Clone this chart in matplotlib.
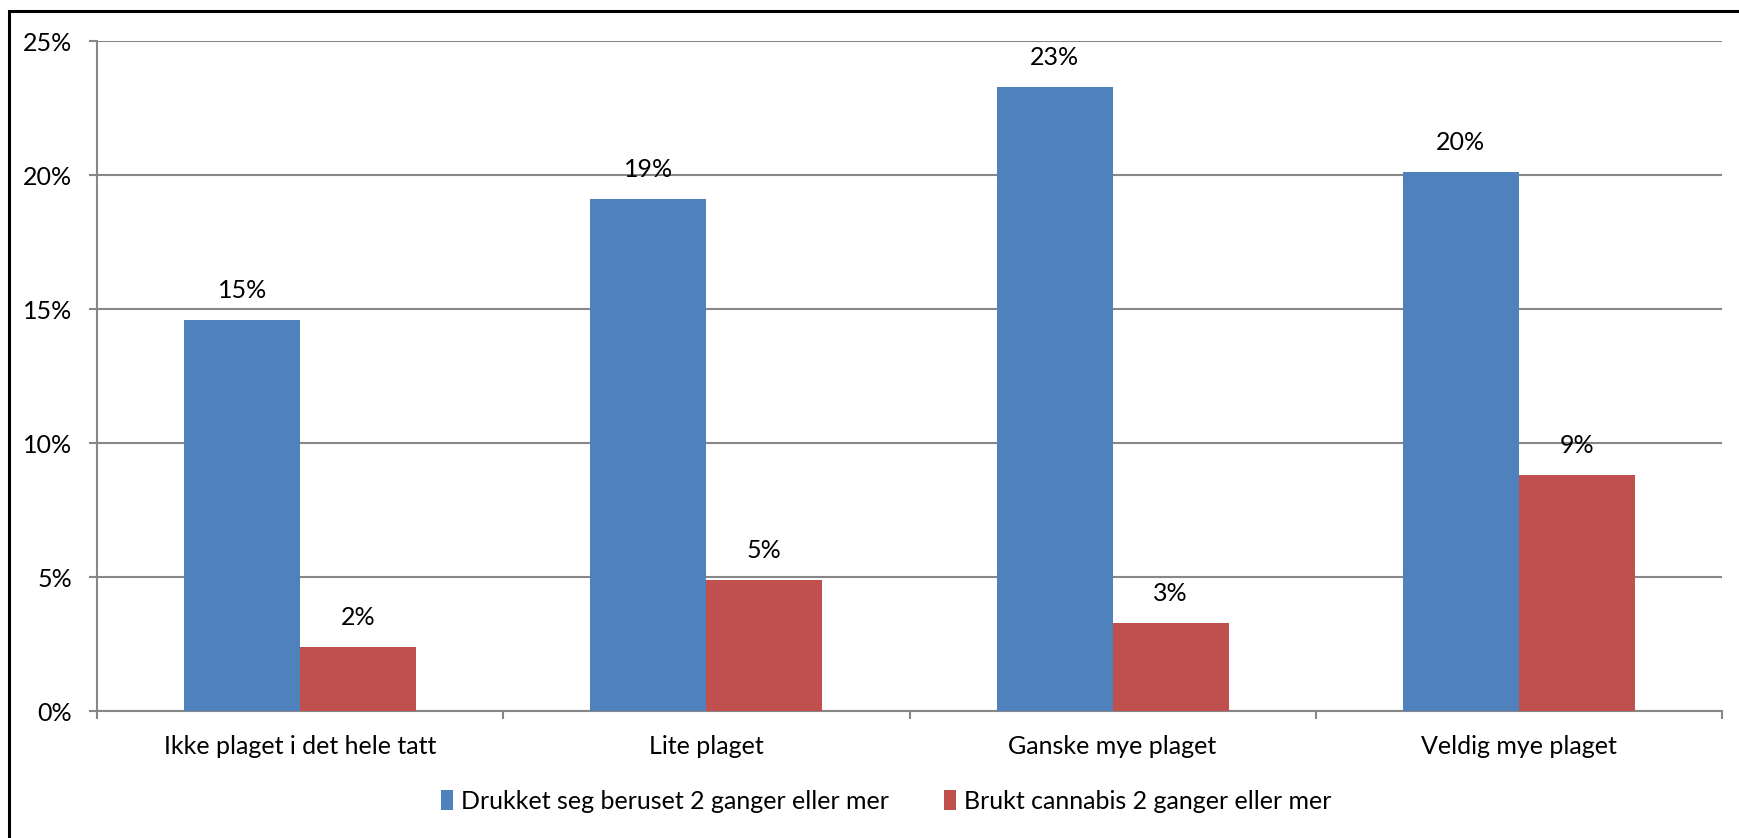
import numpy as np
import matplotlib
matplotlib.use("Agg")
import matplotlib.pyplot as plt
from matplotlib.patches import Rectangle
from matplotlib.ticker import FuncFormatter

plt.rcParams["font.family"] = ["Lato", "DejaVu Sans"]

# Data
categories = ["Ikke plaget i det hele tatt", "Lite plaget", "Ganske mye plaget", "Veldig mye plaget"]
series_names = ["Drukket seg beruset 2 ganger eller mer", "Brukt cannabis 2 ganger eller mer"]
drukket = [14.6, 19.1, 23.3, 20.1]
cannabis = [2.4, 4.9, 3.3, 8.8]
yticks = [0, 5, 10, 15, 20, 25]

blue = "#4F81BD"
red = "#C0504D"
gray = "#878787"

fig = plt.figure(figsize=(17.39, 8.38), dpi=100)
ax = fig.add_axes([97 / 1739, 1 - 711 / 838, (1722 - 97) / 1739, (711 - 41) / 838])

x = np.arange(len(categories))
w = 1 / 3.5
b1 = ax.bar(x - w / 2, drukket, w, color=blue, label=series_names[0], zorder=3)
b2 = ax.bar(x + w / 2, cannabis, w, color=red, label=series_names[1], zorder=3)

# value labels
for bars, vals in [(b1, drukket), (b2, cannabis)]:
    for r, v in zip(bars, vals):
        ax.annotate(f"{v:.0f}%", (r.get_x() + r.get_width() / 2, v),
                    xytext=(0, 13), textcoords="offset points",
                    ha="center", va="bottom", fontsize=18, color="black")

ax.set_xlim(-0.5, len(categories) - 0.5)
ax.set_ylim(0, 25)
ax.set_yticks(yticks)
ax.yaxis.set_major_formatter(FuncFormatter(lambda v, p: f"{v:.0f}%"))
ax.yaxis.grid(True, color=gray, linewidth=1.5, zorder=0)

ax.set_xticks(x)
ax.set_xticklabels(categories)
ax.set_xticks(np.arange(len(categories) + 1) - 0.5, minor=True)
ax.tick_params(axis="x", which="major", length=0, pad=17, labelsize=18)
ax.tick_params(axis="x", which="minor", length=6, width=1.5, color=gray, direction="out")
ax.tick_params(axis="y", length=6, width=1.5, color=gray, pad=12, labelsize=18)

for s in ["top", "right"]:
    ax.spines[s].set_visible(False)
for s in ["left", "bottom"]:
    ax.spines[s].set_color(gray)
    ax.spines[s].set_linewidth(1.5)

fig.legend(loc="center", bbox_to_anchor=(886 / 1739, 1 - 801 / 838), ncol=2,
           frameon=False, fontsize=18, handlelength=0.5, handleheight=0.9,
           handletextpad=0.3, columnspacing=2.2)

# outer chart border (cut off at right and bottom)
fig.patches.append(Rectangle((9 / 1739, -0.1), 2, 1.1 - 11 / 838, transform=fig.transFigure,
                             fill=False, edgecolor="black", linewidth=2.2))

fig.savefig("out.png", dpi=100)
